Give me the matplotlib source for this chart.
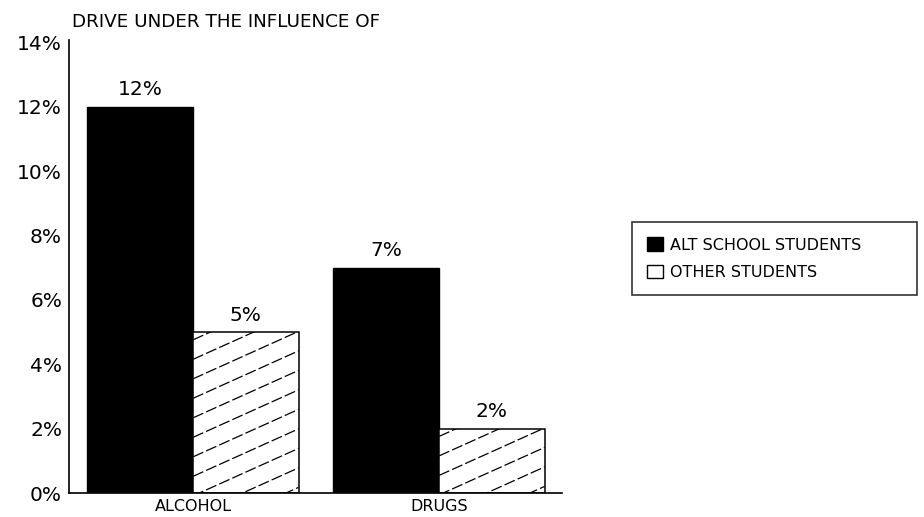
import matplotlib
matplotlib.use("Agg")
import matplotlib.pyplot as plt
import numpy as np
from matplotlib.patches import Patch
from matplotlib.lines import Line2D

categories = ["ALCOHOL", "DRUGS"]
alt_school = [12, 7]
other_students = [5, 2]
series_names = ["ALT SCHOOL STUDENTS", "OTHER STUDENTS"]
yticks = [0, 2, 4, 6, 8, 10, 12, 14]
title = "DRIVE UNDER THE INFLUENCE OF"

plt.rcParams['font.family'] = ['DejaVu Sans']

fig = plt.figure(figsize=(9.24, 5.17), dpi=100)
ax = fig.add_axes([69 / 924, 0.0464, 493 / 924, 0.876])

x = np.arange(len(categories))
w = 0.429
b1 = ax.bar(x - w / 2, alt_school, w, color="black", edgecolor="black", linewidth=1)
b2 = ax.bar(x + w / 2, other_students, w, color="white", edgecolor="black",
            linewidth=1.1)

ax.set_xlim(-0.504, 1.5)
ax.set_ylim(0, 14.07)

# shallow diagonal broken hatching, built from each bar's own geometry
inv = ax.transData.inverted()
for rect in b2:
    x0, y0 = rect.get_x(), rect.get_y()
    x1, y1 = x0 + rect.get_width(), y0 + rect.get_height()
    (px0, py0), (px1, py1) = ax.transData.transform([(x0, y0), (x1, y1)])
    slope = 0.45
    step = 19.5
    span = (px1 - px0) * slope
    c = py1 - step * 0.4
    while c > py0 - span:
        xs = np.array([px0, px1])
        ys = c + (xs - px0) * slope
        pts = inv.transform(np.column_stack([xs, ys]))
        ln = Line2D(pts[:, 0], pts[:, 1], color="black", linewidth=0.9,
                    linestyle=(0, (9, 2.5)))
        ax.add_line(ln)
        ln.set_clip_path(rect)
        c -= step

for rect, v in list(zip(b1, alt_school)) + list(zip(b2, other_students)):
    ax.text(rect.get_x() + rect.get_width() / 2, v + 0.53, f"{v}%",
            ha="center", va="center", fontsize=14.5)

ax.set_yticks(yticks)
ax.set_yticklabels([f"{t}%" for t in yticks], fontsize=14.5)
ax.set_xticks(x)
ax.set_xticklabels(categories, fontsize=11.5)
ax.tick_params(axis="y", length=0, pad=5)
ax.tick_params(axis="x", length=0, pad=4)
for s in ["top", "right"]:
    ax.spines[s].set_visible(False)
ax.spines["left"].set_linewidth(1.2)
ax.spines["bottom"].set_linewidth(1.2)

fig.text(72 / 924, 1 - 22 / 517, title, fontsize=13.2, va="center", ha="left")

handles = [Patch(facecolor="black", edgecolor="black"),
           Patch(facecolor="white", edgecolor="black")]
leg = fig.legend(handles, series_names, loc="upper left",
                 bbox_to_anchor=(632 / 924, 1 - 222 / 517, 285 / 924, 0),
                 mode="expand",
                 fontsize=11.5, frameon=True, fancybox=False,
                 handlelength=1.0, handleheight=0.95, handletextpad=0.45,
                 borderpad=0.95, labelspacing=0.75, borderaxespad=0)
leg.get_frame().set_edgecolor("black")
leg.get_frame().set_linewidth(1.2)

fig.savefig("out.png", dpi=100, facecolor="white")
